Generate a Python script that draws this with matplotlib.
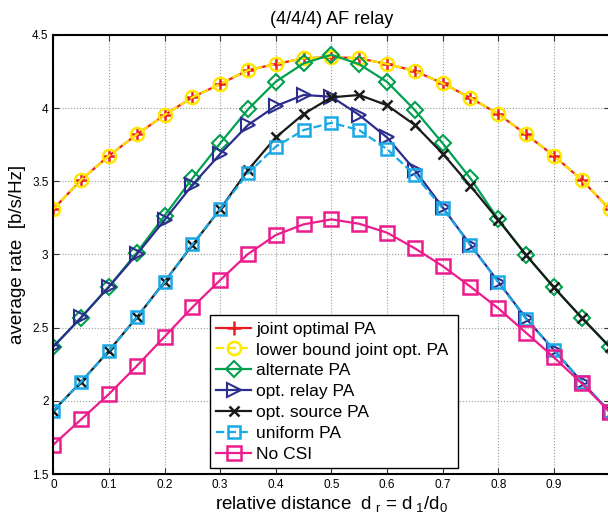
import numpy as np
import matplotlib.pyplot as plt

plt.rcParams['font.family'] = ['Liberation Sans', 'DejaVu Sans']
plt.rcParams['mathtext.fontset'] = 'custom'
plt.rcParams['mathtext.rm'] = 'Liberation Sans'
plt.rcParams['mathtext.it'] = 'Liberation Sans'

# relative distance d_r
dr = np.linspace(0, 1, 21)

joint_opt = [3.31, 3.51, 3.675, 3.82, 3.953, 4.074, 4.165, 4.259, 4.302, 4.340, 4.350,
             4.340, 4.302, 4.254, 4.170, 4.070, 3.960, 3.820, 3.675, 3.51, 3.31]
lower_bound = joint_opt
alternate = [2.37, 2.568, 2.78, 3.012, 3.265, 3.52, 3.76, 3.992, 4.181, 4.306, 4.365,
             4.300, 4.180, 3.987, 3.760, 3.52, 3.24, 2.996, 2.775, 2.568, 2.37]
opt_relay = [2.37, 2.57, 2.78, 3.00, 3.236, 3.475, 3.687, 3.885, 4.015, 4.09, 4.078,
             3.953, 3.80, 3.577, 3.322, 3.065, 2.814, 2.563, 2.347, 2.13, 1.925]
opt_source = [1.932, 2.13, 2.342, 2.57, 2.814, 3.065, 3.31, 3.577, 3.80, 3.96, 4.074,
              4.09, 4.02, 3.885, 3.69, 3.468, 3.236, 2.996, 2.775, 2.568, 2.37]
uniform = [1.93, 2.13, 2.34, 2.57, 2.81, 3.07, 3.31, 3.555, 3.737, 3.85, 3.90,
           3.85, 3.72, 3.543, 3.315, 3.065, 2.81, 2.56, 2.35, 2.13, 1.93]
no_csi = [1.70, 1.873, 2.046, 2.238, 2.438, 2.639, 2.825, 3.003, 3.133, 3.206, 3.24,
          3.21, 3.149, 3.042, 2.921, 2.78, 2.632, 2.465, 2.297, 2.119, 1.925]

labels = ['joint optimal PA', 'lower bound joint opt. PA', 'alternate PA',
          'opt. relay PA', 'opt. source PA', 'uniform PA', 'No CSI']
xticklabels = ['0', '0.1', '0.2', '0.3', '0.4', '0.5', '0.6', '0.7', '0.8', '0.9', '']

fig = plt.figure(figsize=(6.08, 5.19), dpi=100)
ax = fig.add_axes([0.0877, 0.0867, 0.9148, 0.8459])

ms = 9.5
ax.plot(dr, joint_opt, color='#ED1C24', ls='-', lw=1.6, marker='+', ms=ms, mew=1.8,
        label=labels[0])
ax.plot(dr, lower_bound, color='#FFE800', ls='--', lw=1.6, marker='o', ms=ms, mew=1.8,
        mfc='none', label=labels[1])
ax.plot(dr, alternate, color='#00A04F', ls='-', lw=1.6, marker='D', ms=ms - 1, mew=1.5,
        mfc='none', label=labels[2])
ax.plot(dr, opt_relay, color='#2B2E8C', ls='-', lw=1.6, marker='>', ms=ms + 1, mew=1.5,
        mfc='none', label=labels[3])
ax.plot(dr, opt_source, color='#1A1A1A', ls='-', lw=1.6, marker='x', ms=ms - 2, mew=1.8,
        label=labels[4])
ax.plot(dr, uniform, color='#1BA9E6', ls='--', lw=1.6, marker='s', ms=ms - 1, mew=1.8,
        mfc='none', label=labels[5])
ax.plot(dr, no_csi, color='#EC1C8C', ls='-', lw=1.6, marker='s', ms=ms, mew=1.8,
        mfc='none', label=labels[6])

ax.set_xlim(0, 1)
ax.set_ylim(1.5, 4.5)
ax.set_xticks(np.arange(0, 1.01, 0.1))
ax.set_xticklabels(xticklabels)
ax.set_yticks([1.5, 2, 2.5, 3, 3.5, 4, 4.5])
ax.set_yticklabels(['1.5', '2', '2.5', '3', '3.5', '4', '4.5'])
ax.tick_params(direction='in', top=True, right=True, labelsize=8.5, length=4, color='#333333')
ax.grid(True, ls=':', color='#999999', lw=0.8)
for s in ax.spines.values():
    s.set_linewidth(1.5)

ax.set_title('(4/4/4) AF relay', fontsize=13, pad=8)
ax.set_xlabel(r'relative distance  d$_{\ r}$ = d$_{\ 1}$/d$_0$', fontsize=13.5, labelpad=2)
ax.set_ylabel('average rate  [b/s/Hz]', fontsize=13.5, labelpad=4)

leg = ax.legend(loc='lower left', bbox_to_anchor=(0.282, 0.0137, 0.446, 0.349),
                mode='expand', fontsize=12.5, handlelength=2.0, handletextpad=0.3,
                borderpad=0.35, labelspacing=0.33, fancybox=False, framealpha=1,
                edgecolor='black', borderaxespad=0)
leg.get_frame().set_linewidth(1.0)

fig.savefig('out.png', dpi=100)
